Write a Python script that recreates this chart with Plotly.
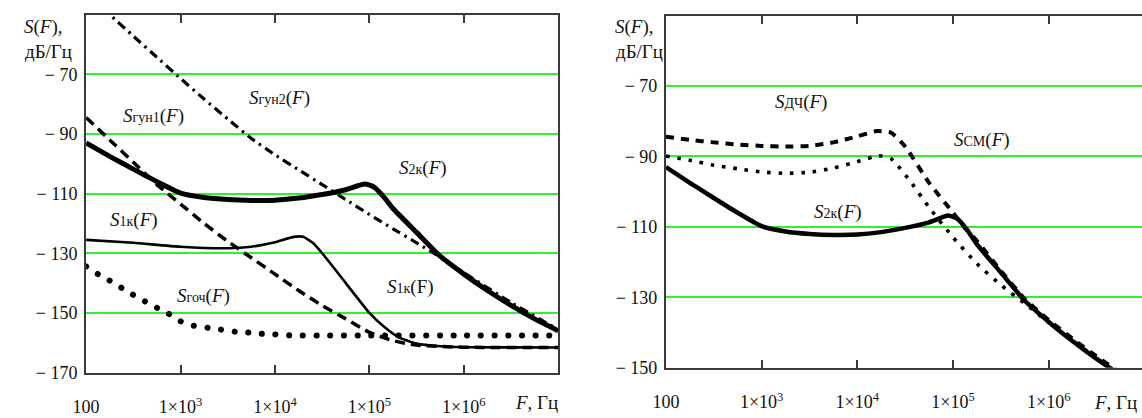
import numpy as np
import plotly.graph_objects as go

# ---------- data (frequency as log10(F, Hz), level in dB/Hz) ----------
lg_s2k = [2.0, 2.25, 2.5, 2.75, 3.0, 3.25, 3.5, 3.75, 4.0, 4.25, 4.5, 4.75, 4.95,
          5.05, 5.15, 5.25, 5.5, 5.75, 6.0, 6.25, 6.5, 6.75, 7.0]
s2k = [-93, -97.5, -101.8, -106, -109.8, -111.3, -112, -112.3, -112.2, -111.5, -110.3,
       -108.7, -106.8, -107.8, -111, -115, -123, -131, -137, -142.5, -147.5, -152, -156]

lg_s1k = [2.0, 2.5, 3.0, 3.5, 3.75, 4.0, 4.2, 4.3, 4.4, 4.5, 4.75, 5.0, 5.15, 5.3,
          5.5, 5.75, 6.0, 7.0]
s1k = [-125.5, -126.5, -127.8, -128.3, -127.8, -126.3, -124.5, -124.5, -126.5, -130,
       -140, -150, -154.5, -158, -160.3, -161.2, -161.5, -161.6]

lg_gun1 = [2.0, 2.25, 2.5, 2.75, 3.0, 3.25, 3.5, 3.75, 4.0, 4.25, 4.5, 4.75, 5.0,
           5.25, 5.5, 6.0, 7.0]
s_gun1 = [-84.5, -92, -99.5, -107, -113.5, -120, -126, -131.5, -137, -142.5, -147.5,
          -152, -156.5, -159.3, -160.8, -161.5, -161.6]

lg_gun2 = [2.0, 2.25, 2.5, 2.75, 3.0, 3.25, 3.5, 3.75, 4.0, 4.25, 4.5, 4.75, 5.0,
           5.25, 5.5, 5.75, 6.0, 6.5, 7.0]
s_gun2 = [-43, -50, -57.2, -64.3, -71.4, -78.3, -85, -91.5, -97, -102, -107, -112,
          -117, -121.8, -126.5, -131.3, -136.5, -146.5, -155.6]

lg_goch = [2.0, 2.15, 2.28, 2.43, 2.57, 2.72, 2.86, 3.0, 3.14, 3.29, 3.43, 3.58,
           3.72, 3.86, 4.0, 4.15, 4.5, 5.0, 6.0, 7.0]
s_goch = [-134.4, -137.5, -139.7, -142.7, -145.2, -147.8, -150, -152.8, -154.3,
          -155, -155.6, -156.3, -156.6, -157, -157.2, -157.5, -157.6, -157.6, -157.6,
          -157.6]

lg_dch = [2.0, 2.25, 2.5, 2.75, 3.0, 3.25, 3.5, 3.75, 4.0, 4.2, 4.35, 4.5, 4.75,
          5.0, 5.13, 5.25, 5.5, 5.75, 6.0, 6.25, 6.5, 6.75, 7.0]
s_dch = [-84.4, -85.3, -86, -86.6, -87, -87.2, -87, -86, -84.3, -82.8, -83.2, -87.2,
         -97.5, -106, -110.5, -114, -122.5, -130.5, -136.5, -141.8, -146.8, -151.5,
         -155.6]

lg_cm = [2.0, 2.25, 2.5, 2.75, 3.0, 3.25, 3.5, 3.75, 4.0, 4.22, 4.35, 4.45, 4.55,
         4.75, 5.0, 5.25, 5.5, 5.75, 6.0, 6.25, 6.5, 6.75, 7.0]
s_cm = [-89.9, -91.1, -92.5, -93.5, -94.4, -94.8, -94.5, -93.3, -91.5, -89.8, -90.6,
        -93.5, -96.9, -104.5, -113, -120.5, -126.5, -131.8, -137.2, -142.3, -147.3,
        -152.2, -156.5]

x_tickvals = [100, 1e3, 1e4, 1e5, 1e6]
x_ticktext = ["100", "1×10<sup>3</sup>", "1×10<sup>4</sup>", "1×10<sup>5</sup>",
              "1×10<sup>6</sup>"]
y_left_ticks = [-70, -90, -110, -130, -150, -170]
y_right_ticks = [-70, -90, -110, -130, -150]


def hz(lg):
    return np.power(10.0, np.asarray(lg, dtype=float))


def ylab(v):
    return "− " + str(abs(v))


SERIF = "Liberation Serif"
INK = "#111111"
GRID = "#33ee33"
FRAME = "#3a3a3a"
FS_TICK = 18
FS = 19

fig = go.Figure()


def line(lg, s, width, dash, xa, ya):
    fig.add_trace(go.Scatter(
        x=hz(lg), y=s, mode="lines", xaxis=xa, yaxis=ya, showlegend=False,
        hoverinfo="skip", line=dict(color="black", width=width, dash=dash,
                                    shape="spline", smoothing=0.5)))


# left panel (first trace: the round-dotted S_goch curve)
line(lg_goch, s_goch, 6, "5px,8.5px", "x", "y")
line(lg_gun1, s_gun1, 3.5, "10px,6px", "x", "y")
line(lg_gun2, s_gun2, 3.2, "9px,5px,2.5px,5px", "x", "y")
line(lg_s1k, s1k, 2.6, "solid", "x", "y")
line(lg_s2k, s2k, 5, "solid", "x", "y")

# right panel
line(lg_cm, s_cm, 3.6, "3.6px,7.8px", "x2", "y2")
line(lg_dch, s_dch, 4, "8px,7px", "x2", "y2")
line(lg_s2k, s2k, 4.5, "solid", "x2", "y2")

W, H = 1142, 418
xa_common = dict(type="log", showgrid=False, zeroline=False, showline=True,
                 linecolor=FRAME, linewidth=2, ticks="inside", ticklen=8,
                 tickwidth=1.5, tickcolor=FRAME, tickvals=x_tickvals,
                 ticktext=x_ticktext,
                 tickfont=dict(family=SERIF, size=FS_TICK, color=INK),
                 ticklabelstandoff=17)
ya_common = dict(showgrid=True, gridcolor=GRID, gridwidth=1.6, zeroline=False,
                 showline=True, linecolor=FRAME, linewidth=2, ticks="",
                 tickfont=dict(family=SERIF, size=FS_TICK, color=INK),
                 ticklabelstandoff=3)

fig.update_layout(
    width=W, height=H, margin=dict(l=0, r=0, t=0, b=0),
    paper_bgcolor="white", plot_bgcolor="white",
    font=dict(family=SERIF, size=FS, color=INK),
    xaxis=dict(xa_common, domain=[73 / W, 551 / W], range=[2, 7],
               mirror="ticks", anchor="y"),
    yaxis=dict(ya_common, domain=[1 - 381.7 / H, 1 - 15 / H], range=[-170, -50],
               tickvals=y_left_ticks, ticktext=[ylab(v) for v in y_left_ticks],
               mirror=True, anchor="x"),
    xaxis2=dict(xa_common, domain=[660 / W, 1.0], range=[2, 6.974],
                mirror="ticks", anchor="y2"),
    yaxis2=dict(ya_common, domain=[1 - 376.7 / H, 1 - 16 / H], range=[-150, -50],
                tickvals=y_right_ticks, ticktext=[ylab(v) for v in y_right_ticks],
                mirror=False, anchor="x2"),
)

SUB = "<span style='font-size:14px'>{}</span>"


def label(sub, xa, ya, lgx, yv, italic_f=True):
    f = "<i>F</i>" if italic_f else "F"
    fig.add_annotation(text="<i>S</i>" + SUB.format(sub) + "(" + f + ")",
                       x=lgx, y=yv, xref=xa, yref=ya, xanchor="left",
                       showarrow=False, font=dict(family=SERIF, size=FS, color=INK))


label("гун1", "x", "y", 2.368, -84.1)
label("гун2", "x", "y", 3.702, -78.1)
label("2к", "x", "y", 5.288, -101.5)
label("1к", "x", "y", 2.231, -118.9)
label("1к", "x", "y", 5.162, -141.2, italic_f=False)
label("гоч", "x", "y", 2.945, -144.2)
label("ДЧ", "x2", "y2", 3.115, -74.6)
label("СМ", "x2", "y2", 4.993, -85.3)
label("2к", "x2", "y2", 3.527, -105.9)

# underline and leader for the S_CM label
fig.add_shape(type="line", xref="x2", yref="y2", x0=4.99, y0=-89.2, x1=5.60, y1=-89.2,
              line=dict(color="#333333", width=1.2))
fig.add_shape(type="line", xref="x2", yref="y2", x0=4.99, y0=-89.2, x1=4.42, y1=-94.2,
              line=dict(color="#333333", width=1.2))

# axis captions
for x0 in (8, 606):
    fig.add_annotation(text="<i>S</i>(<i>F</i>),", x=x0 / W, y=1 - 28 / H,
                       xref="paper", yref="paper", xanchor="left", yanchor="middle",
                       showarrow=False, font=dict(family=SERIF, size=FS, color=INK))
    fig.add_annotation(text="дБ/Гц", x=(x0 + 1) / W, y=1 - 53 / H,
                       xref="paper", yref="paper", xanchor="left", yanchor="middle",
                       showarrow=False, font=dict(family=SERIF, size=FS, color=INK))

for xr in (553, 1139):
    fig.add_annotation(text="<i>F</i>, Гц", x=xr / W, y=1 - 412 / H,
                       xref="paper", yref="paper", xanchor="right", yanchor="middle",
                       showarrow=False, font=dict(family=SERIF, size=FS, color=INK))

# round caps turn the first trace's short dashes into round dots
ROUND_DOTS = """
var gd = document.getElementById('{plot_id}');
var p = gd.querySelector('.scatterlayer .trace path.js-line');
if (p) { p.style.strokeLinecap = 'round'; p.style.strokeDasharray = '0.1px,13.6px'; }
"""

fig.write_html("out.html", post_script=ROUND_DOTS)
